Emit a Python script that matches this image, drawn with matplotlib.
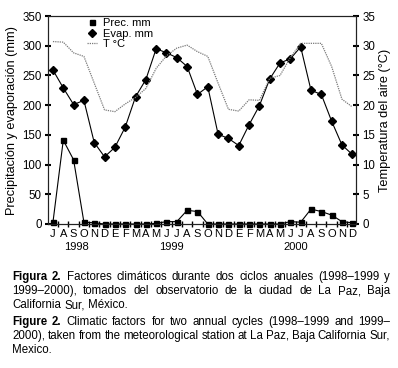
import matplotlib
matplotlib.use("Agg")
import matplotlib.pyplot as plt
from matplotlib.lines import Line2D
import numpy as np

# ---------------- data ----------------
month_labels = ['J', 'A', 'S', 'O', 'N', 'D', 'E', 'F', 'M', 'A', 'M', 'J',
                'J', 'A', 'S', 'O', 'N', 'D', 'E', 'F', 'M', 'A', 'M', 'J',
                'J', 'A', 'S', 'O', 'N', 'D']
year_labels = ['1998', '1999', '2000']
year_pos = [3.3, 12.5, 24.5]

precip = [3, 141, 108, 3, 2, 0, 0, 0, 0, 0, 1, 4, 4, 23, 21, 0, 0, 0, 0, 0,
          0, 0, 0, 4, 3, 25, 21, 15, 4, 2]
evap = [259, 229, 201, 208, 137, 113, 129, 163, 214, 243, 295, 288, 280, 265,
        218, 231, 151, 144, 132, 167, 199, 244, 271, 278, 298, 225, 218, 173,
        133, 117]
temp = [30.7, 30.6, 28.8, 28.2, 23.7, 19.2, 18.9, 20.2, 21.3, 22.8, 26.2, 28.3,
        29.6, 30.1, 29.0, 28.2, 23.7, 19.3, 19.0, 20.9, 20.8, 24.5, 25.0, 28.0,
        30.4, 30.4, 30.4, 26.5, 21.0, 19.7]

left_ticks = [0, 50, 100, 150, 200, 250, 300, 350]
right_ticks = [0, 5, 10, 15, 20, 25, 30, 35]

legend_labels = ['Prec. mm', 'Evap. mm', 'T °C']

caption_lines = [
    ([("Figura", True), ("2.", True), ("Factores", False), ("climáticos", False), ("durante", False),
      ("dos", False), ("ciclos", False), ("anuales", False), ("(1998–1999", False), ("y", False)], True),
    ([("1999–2000),", False), ("tomados", False), ("del", False), ("observatorio", False), ("de", False),
      ("la", False), ("ciudad", False), ("de", False), ("La", False), ("Paz,", False), ("Baja", False)], True),
    ([("California", False), ("Sur,", False), ("México.", False)], False),
    ([("Figure", True), ("2.", True), ("Climatic", False), ("factors", False), ("for", False), ("two", False),
      ("annual", False), ("cycles", False), ("(1998–1999", False), ("and", False), ("1999–", False)], True),
    ([("2000),", False), ("taken", False), ("from", False), ("the", False), ("meteorological", False),
      ("station", False), ("at", False), ("La", False), ("Paz,", False), ("Baja", False), ("California", False),
      ("Sur,", False)], True),
    ([("Mexico.", False)], False),
]
caption_baselines = [280, 294, 308, 325, 339, 353]

# ---------------- figure ----------------
W, H = 398, 368
fig = plt.figure(figsize=(W / 100, H / 100), dpi=100)
narrow = ['Liberation Sans Narrow', 'Liberation Sans', 'DejaVu Sans']
regular = ['Liberation Sans', 'DejaVu Sans']
plt.rcParams['font.family'] = regular

ax_l, ax_r, ax_t, ax_b = 48, 356, 16, 224
ax = fig.add_axes([ax_l / W, 1 - ax_b / H, (ax_r - ax_l) / W, (ax_b - ax_t) / H])
ax2 = ax.twinx()

x = np.arange(1, len(month_labels) + 1)

ax.plot(x, precip, color='black', lw=0.8, marker='s', ms=3.6, zorder=3, clip_on=False)
ax.plot(x, evap, color='black', lw=0.8, marker='D', ms=3.9, zorder=3, clip_on=False)
ax2.plot(x, temp, color='#7a7a7a', lw=0.9, linestyle=(0, (1, 0.8)), zorder=2)

ax.set_xlim(0.52, 30.36)
ax.set_ylim(0, 350)
ax2.set_ylim(0, 35)

ax.set_yticks(left_ticks)
ax.set_yticklabels([str(t) for t in left_ticks], family=narrow, fontsize=8.3)
ax2.set_yticks(right_ticks)
ax2.set_yticklabels([str(t) for t in right_ticks], family=narrow, fontsize=8.3)

ax.set_xticks(x)
ax.set_xticklabels(month_labels, family=narrow, fontsize=8)
ax.set_xticks(np.arange(1.5, 30.5, 1), minor=True)
ax.tick_params(axis='x', which='major', length=0, pad=3.5)
ax.tick_params(axis='x', which='minor', direction='inout', length=4, width=1.0)
ax.tick_params(axis='y', direction='inout', length=5, width=1.5, pad=2)
ax2.tick_params(axis='y', direction='inout', length=5, width=1.5, pad=2)

for a in (ax, ax2):
    for s in a.spines.values():
        s.set_linewidth(0.8)
        s.set_color('#222222')

for lab, pos in zip(year_labels, year_pos):
    ax.text(pos, -0.112, lab, transform=ax.get_xaxis_transform(), ha='center', va='center',
            family=narrow, fontsize=8)

ax.set_ylabel('Precipitación y evaporación (mm)', fontsize=9.2, labelpad=3)
ax2.set_ylabel('Temperatura del aire (°C)', fontsize=9.2, labelpad=3)

handles = [Line2D([], [], color='black', marker='s', ms=3.6, linestyle='none'),
           Line2D([], [], color='black', marker='D', ms=3.9, linestyle='none'),
           Line2D([], [], color='#7a7a7a', lw=0.9, linestyle=(0, (1, 0.8)))]
ax.legend(handles, legend_labels, loc='upper left', bbox_to_anchor=(87 / W, 1 - 18 / H),
          bbox_transform=fig.transFigure, frameon=False, prop={'family': narrow, 'size': 8},
          handlelength=0.9, handletextpad=0.5, labelspacing=0.05, borderpad=0, borderaxespad=0)

# ---------------- caption (justified) ----------------
renderer = fig.canvas.get_renderer()
x0, x1 = 12, 390
cap_size = 8.3
space_t = fig.text(0, 0, 'a a', fontsize=cap_size)
nospace_t = fig.text(0, 0, 'aa', fontsize=cap_size)
space_w = space_t.get_window_extent(renderer).width - nospace_t.get_window_extent(renderer).width
space_t.remove()
nospace_t.remove()

for (words, justify), yb in zip(caption_lines, caption_baselines):
    texts = []
    widths = []
    for w, bold in words:
        t = fig.text(0, 1 - yb / H, w, fontsize=cap_size, fontweight='bold' if bold else 'normal',
                     va='baseline', ha='left')
        texts.append(t)
        widths.append(t.get_window_extent(renderer).width)
    if justify and len(words) > 1:
        gap = (x1 - x0 - sum(widths)) / (len(words) - 1)
    else:
        gap = space_w
    xp = x0
    for t, wdt in zip(texts, widths):
        t.set_x(xp / W)
        xp += wdt + gap

fig.savefig('out.png', dpi=100)
